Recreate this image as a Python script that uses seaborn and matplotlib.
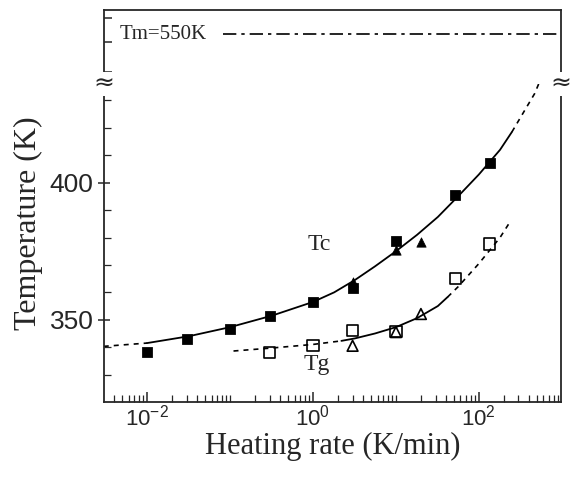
import matplotlib
matplotlib.use("Agg")
import matplotlib.pyplot as plt
import matplotlib.ticker as mticker
import seaborn as sns
import numpy as np

# data
tc_sq_x = [0.01, 0.03, 0.1, 0.3, 1, 3, 10, 52, 135]
tc_sq_y = [338.2, 343.1, 346.7, 351.2, 356.5, 361.6, 378.6, 395.6, 407.3]
tc_tri_x = [3, 10, 20]
tc_tri_y = [363.9, 375.5, 378.2]
tg_sq_x = [0.3, 1, 3, 10, 52, 135]
tg_sq_y = [338.1, 340.5, 346.1, 345.7, 365.0, 377.6]
tg_tri_x = [3, 10, 20]
tg_tri_y = [340.5, 345.5, 352.1]

# fitted curves
tc_left_x = [0.0030, 0.01]
tc_left_y = [340.3, 341.5]
tc_fit_x = [0.01, 0.032, 0.1, 0.32, 1, 1.8, 3.2, 5.6, 10, 18, 32, 56, 100, 180, 250]
tc_fit_y = [341.5, 344.0, 347.3, 351.5, 356.5, 360.0, 364.5, 369.5, 375.0, 381.0, 387.5, 395.0, 403.0, 412.0, 418.5]
tc_right_x = [250, 470, 560]
tc_right_y = [418.5, 432.5, 438.0]
tg_left_x = [0.11, 0.32, 1, 2.2]
tg_left_y = [338.6, 339.7, 341.0, 342.3]
tg_fit_x = [2.2, 3.2, 5.6, 10, 18, 32, 42]
tg_fit_y = [342.3, 343.2, 345.0, 347.3, 350.6, 355.0, 358.3]
tg_right_x = [42, 56, 100, 180, 235]
tg_right_y = [358.3, 362.0, 370.5, 380.0, 385.5]

tm_x = [0.083, 1000]
tm_y = [550, 550]

sns.set_style("ticks")
plt.rcParams["font.family"] = ["Liberation Sans", "DejaVu Sans"]
serif = ["Liberation Serif", "DejaVu Serif"]

fig = plt.figure(figsize=(5.77, 4.78), dpi=100)
L, R = 104 / 577, 561 / 577
bot, brk, top = 1 - 402 / 478, 1 - 84 / 478, 1 - 10 / 478
ax = fig.add_axes([L, bot, R - L, brk - bot])
ax2 = fig.add_axes([L, brk, R - L, top - brk], sharex=ax)

kw = dict(color="black", legend=False, ax=ax)
dash = (3, 3)
sns.lineplot(x=tc_left_x, y=tc_left_y, linestyle=(0, dash), lw=1.2, **kw)
sns.lineplot(x=tc_fit_x, y=tc_fit_y, lw=1.3, **kw)
sns.lineplot(x=tc_right_x, y=tc_right_y, linestyle=(0, dash), lw=1.2, **kw)
sns.lineplot(x=tg_left_x, y=tg_left_y, linestyle=(0, dash), lw=1.2, **kw)
sns.lineplot(x=tg_fit_x, y=tg_fit_y, lw=1.3, **kw)
sns.lineplot(x=tg_right_x, y=tg_right_y, linestyle=(0, dash), lw=1.2, **kw)

sns.scatterplot(x=tc_tri_x, y=tc_tri_y, marker="^", s=45, color="black", edgecolor="black", ax=ax, zorder=3)
sns.scatterplot(x=tc_sq_x, y=tc_sq_y, marker="s", s=50, color="black", edgecolor="black", ax=ax, zorder=4)
sns.scatterplot(x=tg_tri_x, y=tg_tri_y, marker="^", s=60, facecolor="none", edgecolor="black", linewidth=1.2, ax=ax, zorder=3)
sns.scatterplot(x=tg_sq_x, y=tg_sq_y, marker="s", s=65, facecolor="none", edgecolor="black", linewidth=1.2, ax=ax, zorder=4)

sns.lineplot(x=tm_x, y=tm_y, color="black", lw=1.2, linestyle=(0, (8, 3, 2, 3)), ax=ax2, legend=False)

ax.set_xscale("log")
ax.set_xlim(10 ** -2.52, 10 ** 2.99)
ax.set_ylim(320, 436)
ax2.set_ylim(531.8, 558.8)

ax.set_xticks([1e-2, 1, 1e2])
ax.xaxis.set_major_formatter(mticker.LogFormatterSciNotation())
ax.xaxis.set_minor_locator(mticker.LogLocator(subs=np.arange(1, 10), numticks=30))
ax.xaxis.set_minor_formatter(mticker.NullFormatter())
ax.set_yticks([350, 400])
ax.set_yticks(np.arange(330, 436, 10), minor=True)
ax2.set_yticks([536, 547, 556])
ax2.set_yticklabels([])

for a in (ax, ax2):
    for s in a.spines.values():
        s.set_linewidth(1.3)
        s.set_visible(True)
    a.tick_params(which="major", direction="inout", length=8, width=1.1)
    a.tick_params(which="minor", direction="in", length=5, width=0.9)
    a.tick_params(axis="x", which="major", direction="in", length=7, labelsize=16, pad=2)
    a.tick_params(axis="y", labelsize=19)
ax.spines["top"].set_visible(False)
ax2.spines["bottom"].set_visible(False)
ax2.tick_params(axis="x", which="both", bottom=False, labelbottom=False)
ax2.tick_params(axis="y", which="major", direction="in", length=6)

ax.set_xlabel("Heating rate (K/min)", fontsize=22, family=serif, labelpad=1)
ax.set_ylabel("Temperature (K)", fontsize=23, family=serif)
ax.yaxis.set_label_coords(-0.133, 0.563)

ax.text(1.2, 377.4, "Tc", fontsize=17, family=serif, ha="center", va="center")
ax.text(1.12, 333.6, "Tg", fontsize=17, family=serif, ha="center", va="center")
ax2.text(0.0047, 550, "Tm=550K", fontsize=15, family=serif, ha="left", va="center")

# axis break marks
for xb in (L, R):
    fig.text(xb, brk, "\u2248", fontsize=18, ha="center", va="center",
             family=["DejaVu Sans"], bbox=dict(facecolor="white", edgecolor="none", pad=0))

fig.savefig("out.png", dpi=100)
